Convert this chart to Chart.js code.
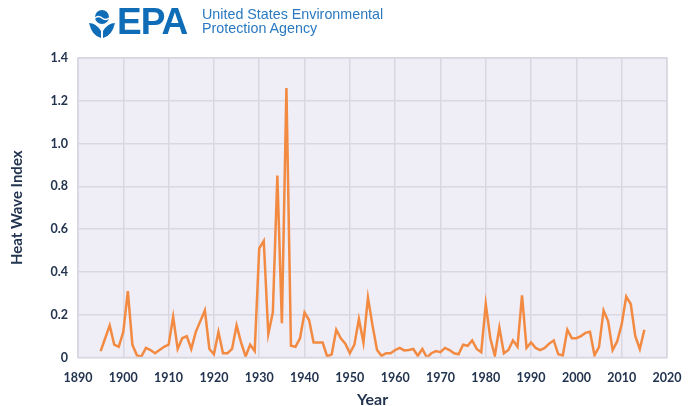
<!DOCTYPE html>
<html lang="en">
<head>
    <meta charset="UTF-8">
    <title>Heat Wave Index</title>
    <script src="https://cdn.jsdelivr.net/npm/chart.js"></script>
    <style>
        body { margin: 0; background: #fff; font-family: "Liberation Sans", Arial, sans-serif; }
        #wrap { position: relative; width: 700px; height: 406px; }
        #logo { position: absolute; left: 88px; top: 6px; height: 34px; }
        #logo svg { position: absolute; left: 0; top: 3px; }
        #logo .epa { position: absolute; left: 29px; top: -5px; font-weight: bold; font-size: 37px; color: #0f6db8; letter-spacing: -1px; }
        #logo .name { position: absolute; left: 114px; top: 2px; font-size: 14.3px; line-height: 13.5px; color: #2a79c1; white-space: nowrap; }
        canvas { position: absolute; left: 0; top: 0; }
    </style>
</head>
<body>
<div id="wrap">
    <canvas id="grafico" width="700" height="406"></canvas>
    <div id="logo">
        <svg width="28" height="30" viewBox="0 0 28 30">
            <circle cx="14" cy="8" r="7" fill="#0f6db8"/>
            <path d="M7 9 Q10.5 6 14 9 T21 9" stroke="#fff" stroke-width="1.6" fill="none"/>
            <path d="M1 14 Q8 14 13 22 L13 29 Q4 27 1 14 Z" fill="#0f6db8"/>
            <path d="M27 14 Q20 14 15 22 L15 29 Q24 27 27 14 Z" fill="#0f6db8"/>
        </svg>
        <span class="epa">EPA</span>
        <span class="name">United States Environmental<br>Protection Agency</span>
    </div>
</div>
<script>
    // anos e valores
    const anos = [];
    for (let a = 1895; a <= 2015; a++) anos.push(a);

    const indice = [
        0.03, 0.09, 0.15, 0.06, 0.05,                         // 1895-1899
        0.12, 0.31, 0.06, 0.01, 0.005, 0.045, 0.035, 0.02, 0.035, 0.05, // 1900s
        0.06, 0.19, 0.04, 0.09, 0.10, 0.04, 0.12, 0.17, 0.22, 0.04,     // 1910s
        0.015, 0.12, 0.02, 0.02, 0.04, 0.15, 0.07, 0.005, 0.06, 0.03,   // 1920s
        0.51, 0.545, 0.11, 0.21, 0.85, 0.16, 1.26, 0.055, 0.05, 0.09,   // 1930s
        0.21, 0.175, 0.07, 0.07, 0.07, 0.005, 0.015, 0.13, 0.09, 0.065, // 1940s
        0.02, 0.06, 0.18, 0.07, 0.28, 0.15, 0.035, 0.008, 0.02, 0.02,   // 1950s
        0.035, 0.045, 0.033, 0.035, 0.04, 0.008, 0.04, 0.0, 0.02, 0.03, // 1960s
        0.025, 0.045, 0.035, 0.02, 0.015, 0.06, 0.055, 0.08, 0.04, 0.025, // 1970s
        0.25, 0.09, 0.008, 0.14, 0.02, 0.035, 0.08, 0.05, 0.29, 0.045,  // 1980s
        0.07, 0.045, 0.035, 0.045, 0.065, 0.08, 0.015, 0.01, 0.13, 0.09, // 1990s
        0.09, 0.10, 0.115, 0.12, 0.01, 0.05, 0.22, 0.17, 0.035, 0.075,  // 2000s
        0.155, 0.285, 0.25, 0.10, 0.04, 0.13                             // 2010-2015
    ];

    const xMin = 1890, xMax = 2020, xPasso = 10;
    const yMin = 0, yMax = 1.4, yPasso = 0.2;

    const corTexto = '#22344f';
    const corGrade = '#d9d8e2';

    // fundo lilas e borda da area do grafico
    const fundoPlot = {
        id: 'fundoPlot',
        beforeDraw(chart) {
            const { ctx, chartArea: a } = chart;
            ctx.save();
            ctx.fillStyle = '#efedf6';
            ctx.fillRect(a.left, a.top, a.right - a.left, a.bottom - a.top);
            ctx.restore();
        },
        afterDatasetsDraw(chart) {
            const { ctx, chartArea: a } = chart;
            ctx.save();
            ctx.strokeStyle = corGrade;
            ctx.lineWidth = 1.5;
            ctx.strokeRect(a.left, a.top, a.right - a.left, a.bottom - a.top);
            ctx.restore();
        }
    };

    const ctx = document.getElementById('grafico').getContext('2d');
    new Chart(ctx, {
        type: 'line',
        data: {
            datasets: [{
                data: anos.map((a, i) => ({ x: a, y: indice[i] })),
                borderColor: '#f28a42',
                borderWidth: 2.5,
                pointRadius: 0,
                tension: 0,
                fill: false
            }]
        },
        options: {
            responsive: false,
            animation: false,
            layout: { padding: { top: 58, left: 8, right: 33, bottom: 0 } },
            plugins: { legend: { display: false }, tooltip: { enabled: false } },
            scales: {
                x: {
                    type: 'linear',
                    min: xMin, max: xMax,
                    afterFit: s => { s.height = 48.5; },
                    ticks: {
                        stepSize: xPasso,
                        color: corTexto,
                        padding: 13,
                        maxRotation: 0,
                        font: { family: 'Lato', weight: 'bold', size: 12.5 },
                        callback: v => String(v)
                    },
                    grid: { color: corGrade, lineWidth: 1.5, drawTicks: false },
                    border: { display: false },
                    title: {
                        display: true, text: 'Year', color: corTexto,
                        font: { family: 'Lato', weight: 'bold', size: 16 },
                        padding: { top: 0, bottom: -3 }
                    }
                },
                y: {
                    min: yMin, max: yMax,
                    afterFit: s => { s.width = 70; },
                    ticks: {
                        stepSize: yPasso,
                        color: corTexto,
                        padding: 10,
                        font: { family: 'Lato', weight: 'bold', size: 12.5 },
                        callback: v => v === 0 ? '0' : v.toFixed(1)
                    },
                    grid: { color: corGrade, lineWidth: 1.5, drawTicks: false },
                    border: { display: false },
                    title: {
                        display: true, text: 'Heat Wave Index', color: corTexto,
                        font: { family: 'Lato', weight: 'bold', size: 15 },
                        padding: { top: 0, bottom: 4 }
                    }
                }
            }
        },
        plugins: [fundoPlot]
    });
</script>
</body>
</html>
